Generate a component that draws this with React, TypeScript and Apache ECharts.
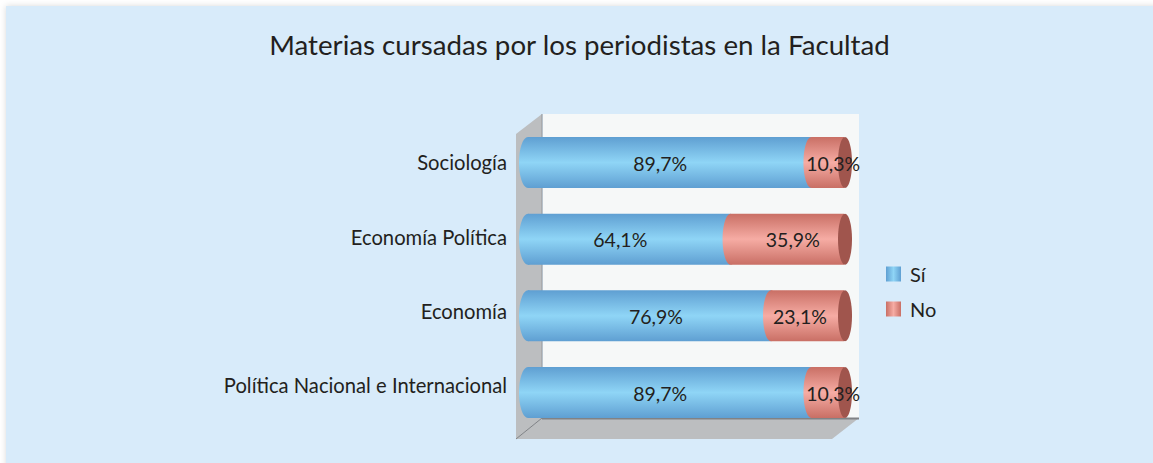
import React, { useEffect, useRef } from "react";
import * as echarts from "echarts";

const titleText = "Materias cursadas por los periodistas en la Facultad";
const categories = ["Sociología", "Economía Política", "Economía", "Política Nacional e Internacional"];
const siValues = [89.7, 64.1, 76.9, 89.7];
const noValues = [10.3, 35.9, 23.1, 10.3];

// hand placed label shifts of the original (px from the centre of each segment)
const siNudge = [-9.5, -9, 6.5, -9.5];
const noNudge = [5.5, 5.5, -7.5, 5.5];
const categoryLift = [1, 2, 5, 8];

const fontFamily = "Lato, sans-serif";
const textColor = "#231f20";
const fmt = (v: number) => v.toFixed(1).replace(".", ",") + "%";

const vGrad = (edge: string, mid: string) =>
  new echarts.graphic.LinearGradient(0, 0, 0, 1, [
    { offset: 0, color: edge },
    { offset: 0.5, color: mid },
    { offset: 1, color: edge },
  ]);
const hGrad = (edge: string, mid: string) =>
  new echarts.graphic.LinearGradient(0, 0, 1, 0, [
    { offset: 0, color: edge },
    { offset: 0.5, color: mid },
    { offset: 1, color: edge },
  ]);

const blueFill = vGrad("#5f9fd2", "#8fd5f6");
const redFill = vGrad("#c96f65", "#f6aca4");

function barRenderer(isRed: boolean, nudge: number[]) {
  return (params: any, api: any) => {
    const cat = api.value(0);
    const start = api.value(1);
    const value = api.value(2);
    const [x0, y] = api.coord([start, cat]);
    const [x1] = api.coord([start + value, cat]);
    const h = api.size([0, 1])[1] * 0.665;
    const fill = isRed ? redFill : blueFill;
    const top = y - h / 2;
    const children: any[] = [
      { type: "ellipse", shape: { cx: x0, cy: y, rx: isRed ? 8 : 9, ry: h / 2 }, style: { fill } },
      { type: "rect", shape: { x: x0, y: top, width: x1 - x0, height: h }, style: { fill } },
    ];
    if (isRed) {
      children.push({ type: "ellipse", shape: { cx: x1 + 1, cy: y, rx: 7, ry: h / 2 }, style: { fill: "#a0554d" } });
    }
    children.push({
      type: "text",
      x: (x0 + x1) / 2 + nudge[params.dataIndex],
      y: y + 0.5,
      style: { text: fmt(value), fill: textColor, font: `19.5px ${fontFamily}`, align: "center", verticalAlign: "middle" },
    });
    return { type: "group", children };
  };
}

const categoryRich: Record<string, any> = {};
categoryLift.forEach((lift, i) => {
  categoryRich["c" + i] = { fontFamily, fontSize: 20.2, color: textColor, padding: [0, 0, lift * 2, 0] };
});

export default function App() {
  const ref = useRef<HTMLDivElement>(null);
  useEffect(() => {
    document.body.style.margin = "0";
    const chart = echarts.init(ref.current!, null, { renderer: "svg" });
    chart.setOption({
      animation: false,
      backgroundColor: "#ffffff",
      title: {
        text: titleText,
        left: 574.5,
        top: 25,
        textAlign: "center",
        textStyle: { fontFamily, fontSize: 27.7, fontWeight: "normal", color: textColor },
      },
      legend: {
        left: 881,
        top: 259,
        orient: "vertical",
        itemWidth: 15,
        itemHeight: 15,
        itemGap: 15,
        icon: "rect",
        textStyle: { fontFamily, fontSize: 20, color: textColor, padding: [0, 0, 0, 4] },
        data: [
          { name: "Sí", itemStyle: { color: hGrad("#5f9fd2", "#8fd5f6") } },
          { name: "No", itemStyle: { color: hGrad("#c96f65", "#f6aca4") } },
        ],
      },
      grid: { left: 528, width: 316, top: 124.17, height: 306.67 },
      xAxis: { type: "value", min: 0, max: 100, show: false },
      yAxis: {
        type: "category",
        inverse: true,
        data: categories,
        axisLine: { show: false },
        axisTick: { show: false },
        axisLabel: {
          margin: 21,
          formatter: (v: string) => `{c${categories.indexOf(v)}|${v}}`,
          rich: categoryRich,
        },
      },
      graphic: [
        { type: "rect", z: -10, shape: { x: 6, y: 6, width: 1200, height: 500 }, style: { fill: "#d8ebfa", shadowBlur: 6, shadowColor: "rgba(0,0,0,0.15)" } },
        { type: "rect", z: -9, shape: { x: 543, y: 114, width: 316, height: 304 }, style: { fill: "#f6f8f8" } },
        { type: "polygon", z: -8, shape: { points: [[516, 134], [542, 114], [542, 418], [516, 439]] }, style: { fill: "#bcbec0" } },
        { type: "polygon", z: -8, shape: { points: [[516, 439], [542, 418], [859, 418], [832, 439]] }, style: { fill: "#bcbec0" } },
        { type: "line", z: -7, shape: { x1: 542, y1: 114, x2: 542, y2: 418 }, style: { stroke: "#98999b", lineWidth: 1 } },
        { type: "line", z: -7, shape: { x1: 542, y1: 418.5, x2: 859, y2: 418.5 }, style: { stroke: "#808285", lineWidth: 2 } },
        { type: "line", z: -7, shape: { x1: 516, y1: 439, x2: 542, y2: 418 }, style: { stroke: "#808285", lineWidth: 1 } },
      ],
      series: [
        {
          name: "Sí",
          type: "custom",
          coordinateSystem: "cartesian2d",
          renderItem: barRenderer(false, siNudge),
          encode: { x: [1, 2], y: 0 },
          data: siValues.map((v, i) => [i, 0, v]),
        },
        {
          name: "No",
          type: "custom",
          coordinateSystem: "cartesian2d",
          renderItem: barRenderer(true, noNudge),
          encode: { x: [1, 2], y: 0 },
          data: noValues.map((v, i) => [i, siValues[i], v]),
        },
      ],
    });
    return () => chart.dispose();
  }, []);
  return <div ref={ref} style={{ position: "absolute", left: 0, top: 0, width: 1153, height: 463 }} />;
}
